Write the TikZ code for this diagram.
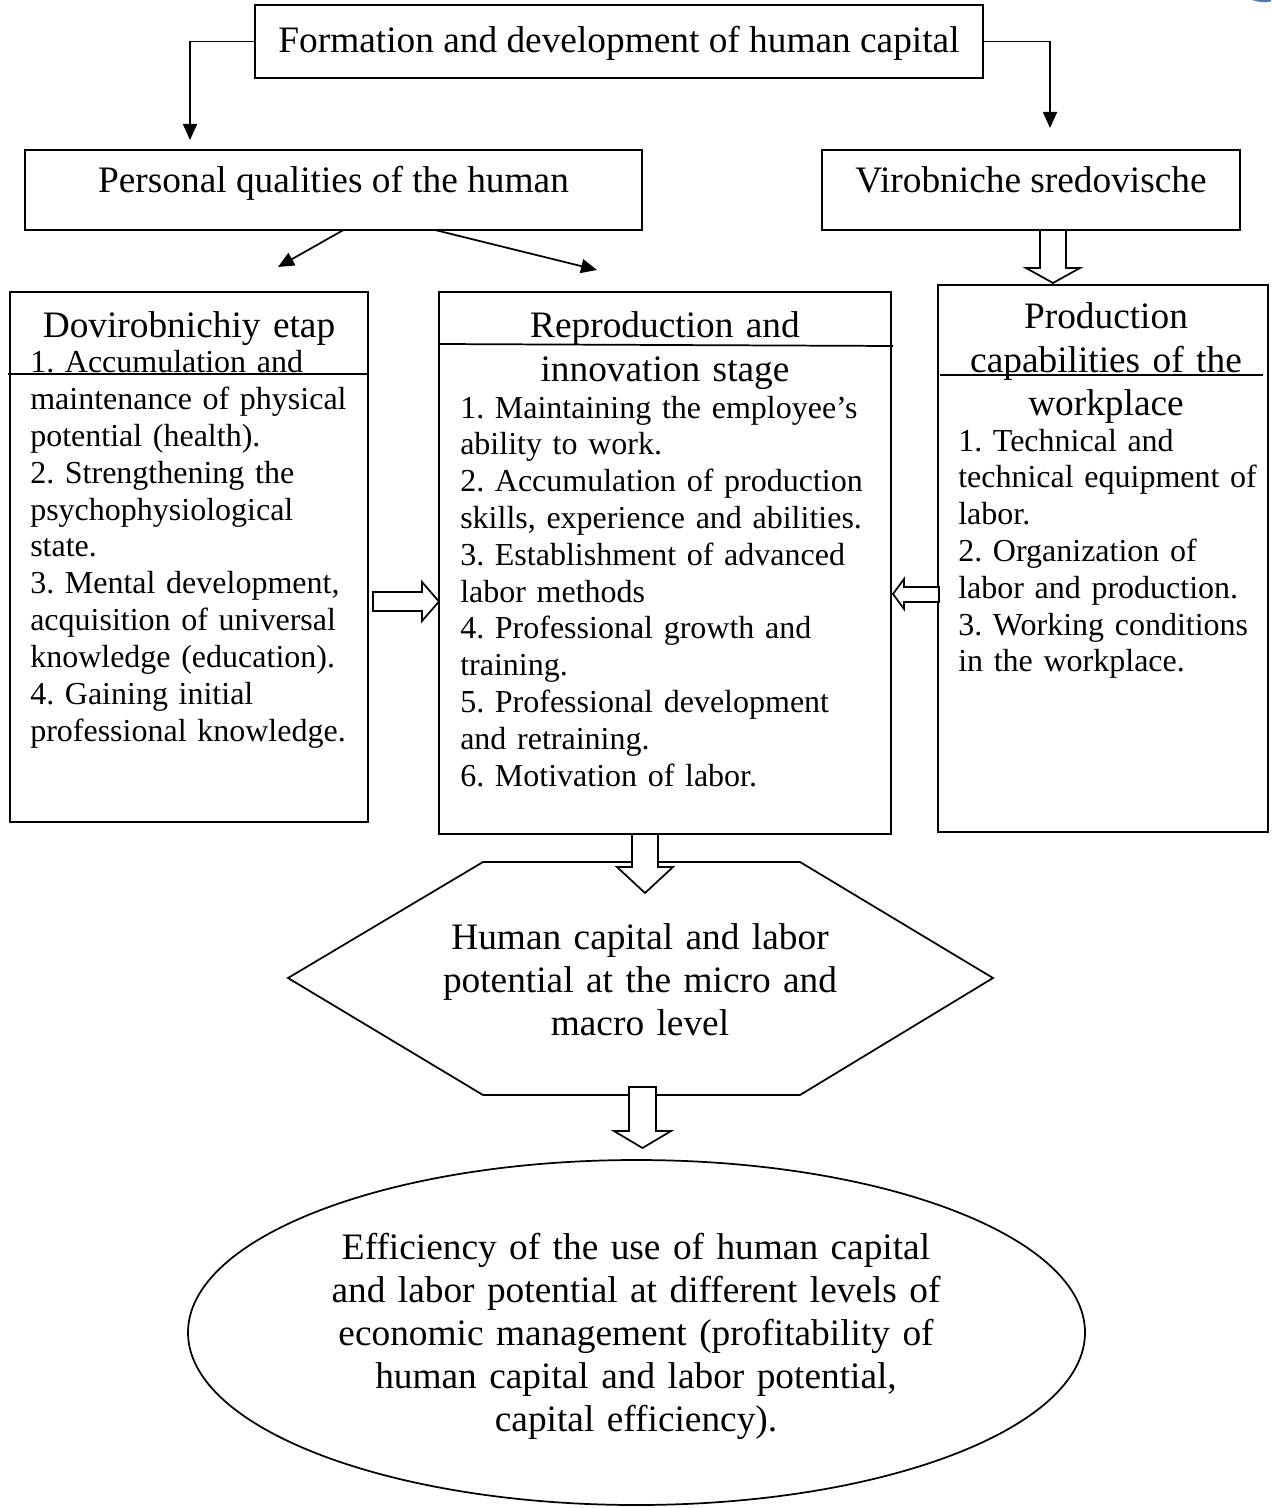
\documentclass[tikz,border=0pt]{standalone}
\usepackage{fontspec}
\setmainfont{Liberation Serif}
\usetikzlibrary{arrows.meta,shapes.geometric,calc}

% sizes are given in pixels of a 1271 x 1508 sheet
\newcommand\px[1]{#1*0.75pt}
\newcommand\bigtext{\frenchspacing\fontsize{28}{32.4}\selectfont}
\newcommand\listtext{\frenchspacing\fontsize{24}{27.6}\selectfont}
\definecolor{cornerblue}{RGB}{78,118,186}

\tikzset{
  frame/.style={draw, line width=1.3pt, inner sep=0pt, outer sep=0pt},
  headtext/.style={font=\bigtext, inner sep=0pt, align=center},
  itemtext/.style={font=\listtext, inner sep=0pt, align=left, anchor=base west},
  link/.style={line width=1.3pt, -{Triangle[length=12pt,width=10.5pt]}},
  fatarrow/.style={draw, fill=white, line width=1.3pt, line join=miter},
  rule/.style={line width=1.3pt},
}

\begin{document}
\frenchspacing
\begin{tikzpicture}[x=0.75pt, y=-0.75pt]
\useasboundingbox (0,0) rectangle (1271,1508);

% top box
\node[frame, minimum width=\px{728}, minimum height=\px{73}] (top) at (619,41.5) {};
\node[headtext, anchor=base] (toptext) at (619,53) {Formation and development of human capital};

% second row
\node[frame, minimum width=\px{617}, minimum height=\px{80}] (pers) at (333.5,190) {};
\node[headtext, anchor=base] (perstext) at (333.5,193) {Personal qualities of the human};
\node[frame, minimum width=\px{418}, minimum height=\px{80}] (vir) at (1031,190) {};
\node[headtext, anchor=base] (virtext) at (1031,193) {Virobniche sredovische};

% three stage boxes
\node[frame, minimum width=\px{358}, minimum height=\px{530}] (dov) at (189,557) {};
\node[frame, minimum width=\px{452}, minimum height=\px{542}] (repro) at (665,563) {};
\node[frame, minimum width=\px{330}, minimum height=\px{547}] (prod) at (1103,558.5) {};

% header separators
\draw[rule] ($(dov.north west)+(-2,82)$) -- ($(dov.north east)+(0,82)$);
\draw[rule] ($(repro.north west)+(0,52)$) -- ($(repro.north east)+(2,54)$);
\draw[rule] ($(prod.north west)+(2,90)$) -- ($(prod.north east)+(-5,90)$);

% headers
\node[headtext, anchor=base, text width=\px{340}] (dovhead) at (189,338) {Dovirobnichiy etap};
\node[headtext, anchor=base, text width=\px{440}] (reprohead) at (665,338)
  {Reproduction and\\innovation stage};
\node[headtext, anchor=base, text width=\px{320}] (prodhead) at (1106,329)
  {Production\\capabilities of the\\workplace};

% item lists
\node[itemtext, text width=\px{340}] (dovlist) at (30,373) {%
1. Accumulation and\\
maintenance of physical\\
potential (health).\\
2. Strengthening the\\
psychophysiological\\
state.\\
3. Mental development,\\
acquisition of universal\\
knowledge (education).\\
4. Gaining initial\\
professional knowledge.};

\node[itemtext, text width=\px{430}] (reprolist) at (460,418) {%
1. Maintaining the employee's\\
ability to work.\\
2. Accumulation of production\\
skills, experience and abilities.\\
3. Establishment of advanced\\
labor methods\\
4. Professional growth and\\
training.\\
5. Professional development\\
and retraining.\\
6. Motivation of labor.};

\node[itemtext, text width=\px{305}] (prodlist) at (958,451) {%
1. Technical and\\
technical equipment of\\
labor.\\
2. Organization of\\
labor and production.\\
3. Working conditions\\
in the workplace.};

% hexagon
\coordinate (h1) at (483,862);
\coordinate (h2) at (800,862);
\coordinate (h3) at (993,978);
\coordinate (h4) at (800,1095);
\coordinate (h5) at (483,1095);
\coordinate (h6) at (288,978);
\draw[rule, line join=miter] (h1) -- (h2) -- (h3) -- (h4) -- (h5) -- (h6) -- cycle;
\node[headtext, anchor=base, text width=\px{500}] (hexa) at (640,949)
  {Human capital and labor\\potential at the micro and\\macro level};

% ellipse
\node[frame, ellipse, minimum width=\px{897}, minimum height=\px{345}] (eff) at (636.5,1332.5) {};
\node[headtext, anchor=base, text width=\px{720}] (efftext) at (636,1259)
  {Efficiency of the use of human capital\\
   and labor potential at different levels of\\
   economic management (profitability of\\
   human capital and labor potential,\\
   capital efficiency).};

% thin connectors
\draw[link] (top.west) -| ($(pers.north west)+(165,-10)$);
\draw[link] (top.east) -| ($(vir.north west)+(228,-22)$);
\draw[link] ($(pers.south)+(10,0)$) -- ($(dov.north)+(89,-25)$);
\draw[link] ($(pers.south)+(101.5,0)$) -- ($(repro.north)+(-68,-22)$);

% hollow block arrows
\draw[fatarrow] (1040,0 |- vir.south) -- ++(0,38) -- ++(-14,0) -- ++(27,15)
  -- ++(27,-15) -- ++(-14,0) -- ++(0,-38) -- cycle;
\draw[fatarrow] ($(dov.east)+(5,35)$) -- ++(49,0) -- ++(0,-10) -- ++(17,19.5)
  -- ++(-17,19.5) -- ++(0,-10) -- ++(-49,0) -- cycle;
\draw[fatarrow] ($(prod.west)+(1,28.5)$) -- ++(-35,0) -- ++(0,-8) -- ++(-11,15)
  -- ++(11,15) -- ++(0,-7) -- ++(35,0) -- cycle;
\draw[fatarrow] (632,0 |- repro.south) -- ++(0,33) -- ++(-15,0) -- ++(28,26)
  -- ++(28,-26) -- ++(-15,0) -- ++(0,-33) -- cycle;
\draw[fatarrow] ($(629,0 |- h5)+(0,-8)$) -- ++(0,44) -- ++(-15,0) -- ++(28.5,17)
  -- ++(28.5,-17) -- ++(-15,0) -- ++(0,-44) -- cycle;

% corner mark
\fill[cornerblue] (1252,0) .. controls (1259,2.5) and (1266,2.5) .. (1271,1.5) -- (1271,0) -- cycle;
\end{tikzpicture}
\end{document}
